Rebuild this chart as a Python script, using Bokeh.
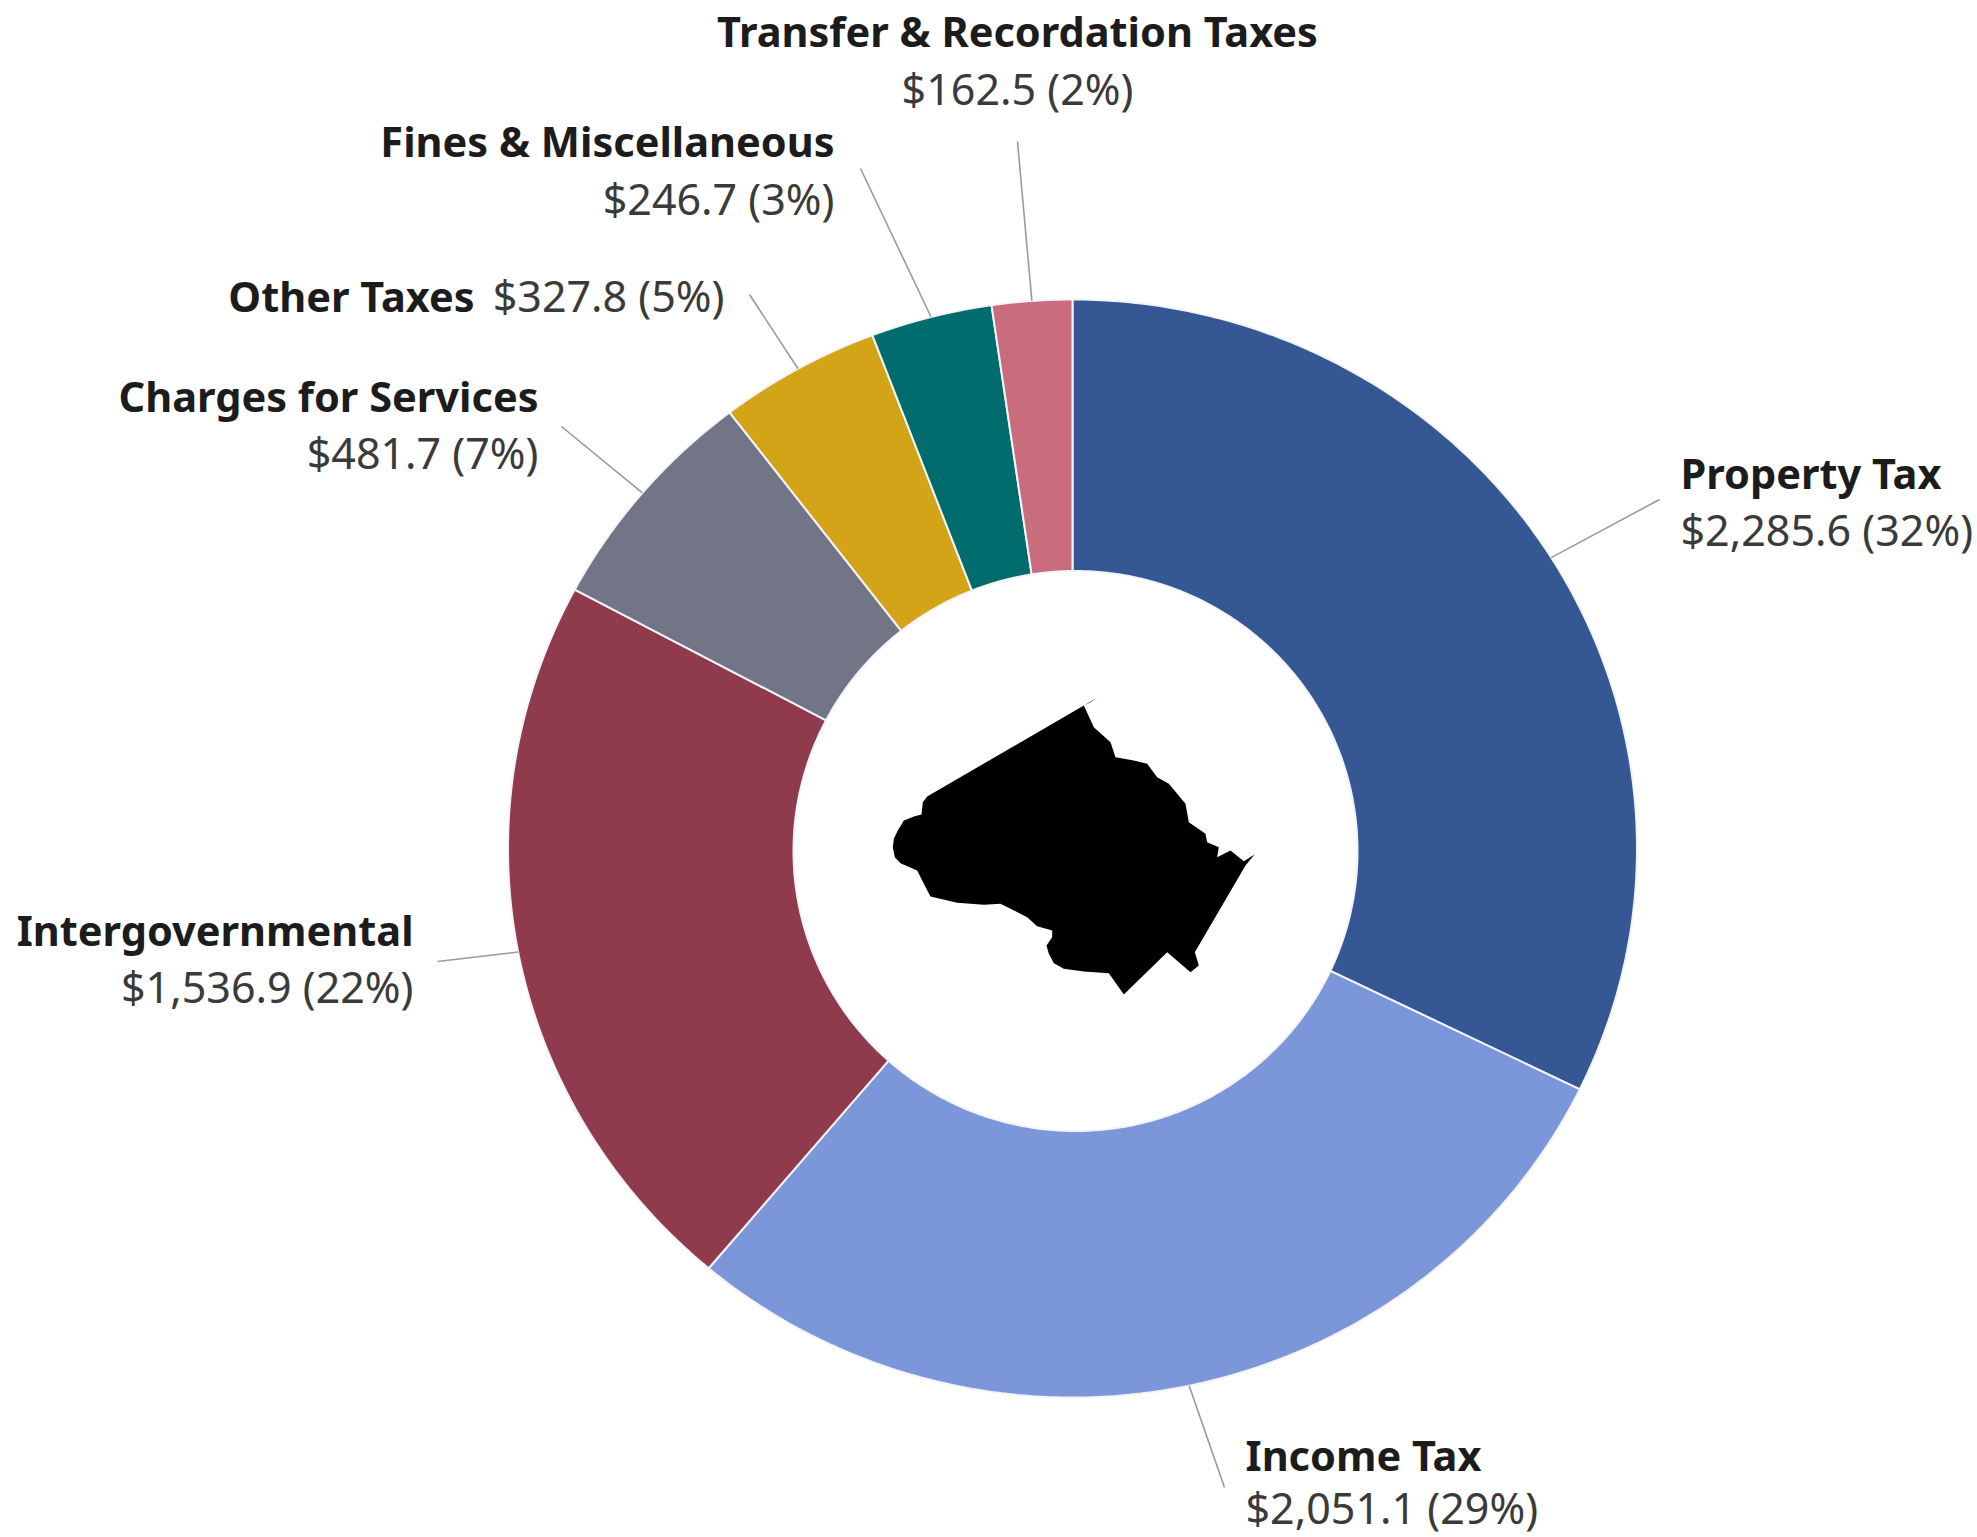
import numpy as np
from bokeh.plotting import figure
from bokeh.embed import file_html
from bokeh.resources import INLINE
from bokeh.core.properties import value as V

categories = ["Property Tax", "Income Tax", "Intergovernmental", "Charges for Services",
              "Other Taxes", "Fines & Miscellaneous", "Transfer & Recordation Taxes"]
amounts = [2285.6, 2051.1, 1536.9, 481.7, 327.8, 246.7, 162.5]
percents = [32, 29, 22, 7, 5, 3, 2]
colors = ["#355895", "#7C96DA", "#8F3B4D", "#717585", "#D4A418", "#006C6E", "#C96C7E"]

# layout, in page pixels
CX, CY, RX, RY = 1072.0, 848.0, 564.5, 549.0
ICX, ICY, IRX, IRY = 1075.0, 850.5, 282.0, 280.0
leader_ends = [(1659, 499), (1224, 1487), (437, 961), (561, 426), (749, 294), (860, 168), (1017, 141)]

# x, anchor, first line y, second line y
label_pos = [(1680, "left", 472, 529), (1245, "left", 1454, 1507), (413, "right", 929, 986),
             (538, "right", 395, 452), None, (834, "right", 140, 198), (1017, "center", 30, 88)]

# county silhouette traced in a 3x crop at (860, 670)
shape_x = [710, 690, 670, 200, 187, 183, 160, 130, 112, 100, 97, 103, 120, 170, 190, 210, 290, 370, 420, 500, 530, 575, 575, 558,
           565, 580, 610, 670, 745, 790, 920, 990, 1015, 1003, 1155, 1182, 1150, 1110, 1070, 1075, 1040, 1035, 985,
           975, 925, 890, 860, 820, 765, 750, 700, 670]
shape_y = [82, 95, 105, 378, 395, 432, 438, 450, 480, 505, 530, 560, 578, 600, 640, 678, 697, 703, 700, 740, 767, 780, 800, 825,
           850, 878, 895, 903, 908, 972, 845, 905, 885, 845, 585, 552, 572, 540, 560, 530, 515, 490, 455,
           400, 340, 320, 280, 270, 260, 215, 170, 105]

W, H = 1977, 1537
p = figure(width=W, height=H, x_range=(0, W), y_range=(H, 0), toolbar_location=None,
           output_backend="svg", min_border=0, outline_line_color=None)
p.axis.visible = False
p.grid.visible = False

vals = np.array(amounts)
edges = np.concatenate([[0], np.cumsum(vals)]) / vals.sum() * 2 * np.pi

def inner_hit(t):
    # where the ray from the outer centre meets the inner ellipse
    dx, dy = RX * np.sin(t), -RY * np.cos(t)
    ox, oy = (CX - ICX) / IRX, (CY - ICY) / IRY
    ax, ay = dx / IRX, dy / IRY
    a = ax * ax + ay * ay
    b = 2 * (ox * ax + oy * ay)
    c = ox * ox + oy * oy - 1
    s = (-b + np.sqrt(b * b - 4 * a * c)) / (2 * a)
    return CX + s * dx, CY + s * dy

xs, ys = [], []
for a0, a1 in zip(edges[:-1], edges[1:]):
    t = np.linspace(a0, a1, 200)
    ix, iy = inner_hit(t[::-1])
    xs.append(np.concatenate([CX + RX * np.sin(t), ix]))
    ys.append(np.concatenate([CY - RY * np.cos(t), iy]))
p.patches(xs, ys, fill_color=colors, line_color="#f4f4f8", line_width=2)

mid = (edges[:-1] + edges[1:]) / 2
for m, (ex, ey) in zip(mid, leader_ends):
    p.line([CX + RX * np.sin(m), ex], [CY - RY * np.cos(m), ey], line_color="#9a9a9a", line_width=1.6)

p.patch([860 + x / 3 for x in shape_x], [670 + y / 3 for y in shape_y], fill_color="black", line_color=None)

def label(x, y, s, anchor, bold):
    p.text([x], [y], text=[s], text_align=anchor, text_baseline="middle",
           text_font=V("Noto Sans"), text_font_style="bold" if bold else "normal",
           text_font_size="41.5px" if bold else "43px",
           text_color="#1c1c1c" if bold else "#3a3a3a")

for i, c in enumerate(categories):
    val = f"${amounts[i]:,.1f} ({percents[i]}%)"
    lp = label_pos[i]
    if lp is None:
        label(474, 295, c, "right", True)
        label(724, 295, val, "right", False)
    else:
        label(lp[0], lp[2], c, lp[1], True)
        label(lp[0], lp[3], val, lp[1], False)

open("out.html", "w").write(file_html(p, INLINE))
